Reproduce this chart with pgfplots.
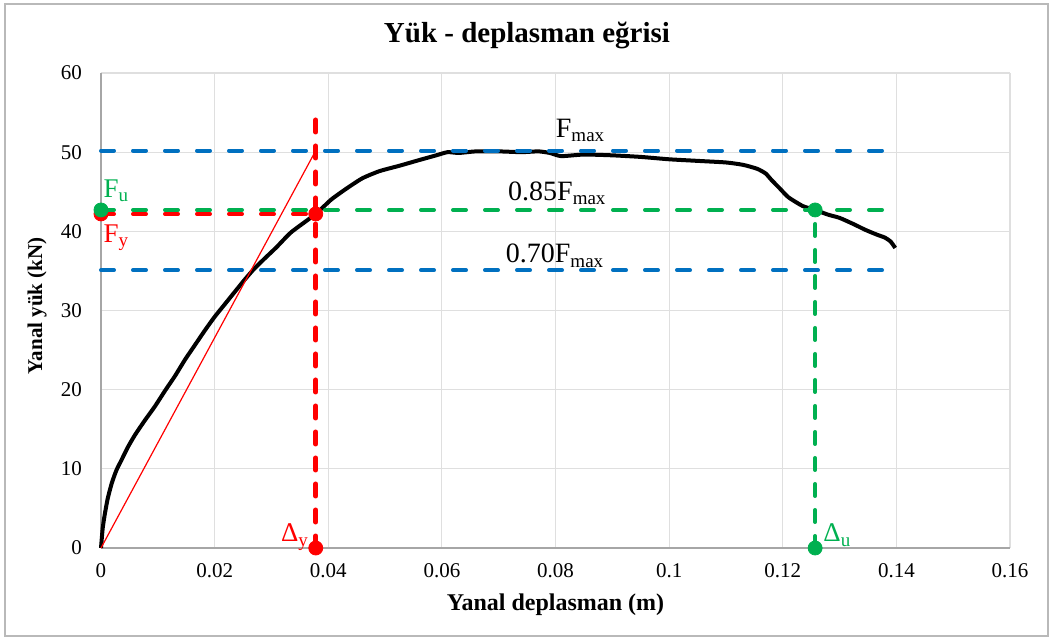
\documentclass[border=0pt]{standalone}
\usepackage{fontspec}
\setmainfont{Liberation Serif}
\usepackage{pgfplots}
\pgfplotsset{compat=1.18}

\definecolor{xlblue}{RGB}{0,112,192}
\definecolor{xlgreen}{RGB}{0,176,80}
\definecolor{xlred}{RGB}{255,0,0}
\newcommand{\sub}[1]{\raisebox{-0.35ex}{\fontsize{9.5}{10}\selectfont #1}}

\begin{document}
\begin{tikzpicture}
\begin{axis}[
  scale only axis, width=454.5pt, height=237.5pt,
  xmin=0, xmax=0.16, ymin=0, ymax=60,
  xtick={0,0.02,0.04,0.06,0.08,0.1,0.12,0.14,0.16},
  xticklabels={0,0.02,0.04,0.06,0.08,0.1,0.12,0.14,0.16},
  ytick={0,10,20,30,40,50,60},
  /pgf/number format/assume math mode=true,
  grid=major, major grid style={gray!25, line width=0.6pt},
  axis x line*=bottom, axis y line*=left,
  axis line style={-, gray!70, line width=0.8pt},
  major tick length=0pt,
  tick label style={font=\fontsize{10.5}{12}\selectfont},
  xticklabel style={yshift=-4pt},
  yticklabel style={xshift=-6pt},
  title={Yük - deplasman eğrisi},
  title style={at={(axis description cs:0.4686,1)}, anchor=center, yshift=13pt,
    font=\bfseries\fontsize{14.5}{17}\selectfont},
  xlabel={Yanal deplasman (m)},
  xlabel style={at={(axis description cs:0.5,-0.12)}, anchor=center,
    font=\bfseries\fontsize{12}{14}\selectfont},
  ylabel={Yanal yük (kN)},
  ylabel style={at={(axis description cs:-0.0704,0.51)}, anchor=center,
    font=\bfseries\fontsize{10.5}{12}\selectfont},
  clip=false,
]
% load-displacement curve
\addplot[black, line width=2pt, line join=round, smooth, tension=0.35] coordinates {
(0,0) (0.0003,2.5) (0.0007,4.4) (0.0012,6.3) (0.0019,8.2) (0.0027,9.8)
(0.0036,11.1) (0.0047,12.7) (0.006,14.3) (0.0077,16.1) (0.0095,17.9)
(0.0113,19.9) (0.013,21.7) (0.0148,23.8) (0.0165,25.6) (0.0183,27.5)
(0.020,29.2) (0.0218,30.8) (0.0236,32.4) (0.0253,33.9) (0.027,35.3)
(0.029,36.7) (0.0309,38.0) (0.0335,39.9) (0.0378,42.2) (0.0405,44.0)
(0.0432,45.4) (0.046,46.7) (0.049,47.6) (0.0526,48.3) (0.056,49.0)
(0.059,49.6) (0.061,50.0) (0.063,49.9) (0.066,50.1) (0.070,50.1)
(0.074,50.0) (0.077,50.1) (0.079,49.9) (0.081,49.5) (0.085,49.7)
(0.090,49.6) (0.095,49.4) (0.100,49.1) (0.105,48.9) (0.110,48.7)
(0.113,48.4) (0.1155,47.9) (0.117,47.3) (0.118,46.5) (0.1195,45.4)
(0.121,44.3) (0.1235,43.2) (0.1257,42.7) (0.128,42.1) (0.130,41.7)
(0.1325,40.9) (0.1345,40.2) (0.1365,39.6) (0.138,39.2) (0.139,38.7)
(0.1398,37.9)};
% initial stiffness line
\addplot[xlred, line width=0.6pt] coordinates {(0,0) (0.0378,50.2)};
% reference levels
\addplot[xlblue, line width=2pt, line cap=round, dash pattern=on 6.5pt off 9.5pt]
  coordinates {(0,50.2) (0.14,50.2)};
\addplot[xlblue, line width=2pt, line cap=round, dash pattern=on 6.5pt off 9.5pt]
  coordinates {(0,35.1) (0.14,35.1)};
\addplot[xlred, line width=2pt, line cap=round, dash pattern=on 6.5pt off 9.5pt]
  coordinates {(0,42.2) (0.0378,42.2)};
\addplot[xlgreen, line width=2pt, line cap=round, dash pattern=on 6.5pt off 9.5pt]
  coordinates {(0,42.7) (0.14,42.7)};
\addplot[xlred, line width=2.5pt, line cap=round, dash pattern=on 6pt off 7pt]
  coordinates {(0.0378,0) (0.0378,55.5)};
\addplot[xlgreen, line width=2pt, line cap=round, dash pattern=on 6pt off 7pt]
  coordinates {(0.1257,0) (0.1257,42.7)};
% points
\addplot[only marks, mark=*, mark size=3.5pt, xlred, mark options={fill=xlred}]
  coordinates {(0,42.2) (0.0378,42.2) (0.0378,0)};
\addplot[only marks, mark=*, mark size=3.5pt, xlgreen, mark options={fill=xlgreen}]
  coordinates {(0,42.7) (0.1257,42.7) (0.1257,0)};
% labels
\node[anchor=base west, inner sep=0pt, font=\fontsize{14}{16}\selectfont] at (axis cs:0.080,51.9) {F\sub{max}};
\node[anchor=base west, inner sep=0pt, font=\fontsize{14}{16}\selectfont] at (axis cs:0.0716,43.9) {0.85F\sub{max}};
\node[anchor=base west, inner sep=0pt, font=\fontsize{14}{16}\selectfont] at (axis cs:0.0712,36.0) {0.70F\sub{max}};
\node[anchor=base west, inner sep=0pt, text=xlgreen, font=\fontsize{13.5}{15}\selectfont] at (axis cs:0.0004,44.3) {F\sub{u}};
\node[anchor=base west, inner sep=0pt, text=xlred, font=\fontsize{13.5}{15}\selectfont] at (axis cs:0.0004,38.6) {F\sub{y}};
\node[anchor=base east, inner sep=0pt, text=xlred, font=\fontsize{13.5}{15}\selectfont] at (axis cs:0.0365,0.8) {Δ\sub{y}};
\node[anchor=base west, inner sep=0pt, text=xlgreen, font=\fontsize{13.5}{15}\selectfont] at (axis cs:0.1271,0.8) {Δ\sub{u}};
\end{axis}
\draw[gray!55, line width=0.8pt]
  ([shift={(-48pt,-44pt)}]current axis.south west) rectangle
  ([shift={(19pt,34.5pt)}]current axis.north east);
\path ([shift={(-50.5pt,-47pt)}]current axis.south west) rectangle
  ([shift={(22pt,36.5pt)}]current axis.north east);
\end{tikzpicture}
\end{document}
